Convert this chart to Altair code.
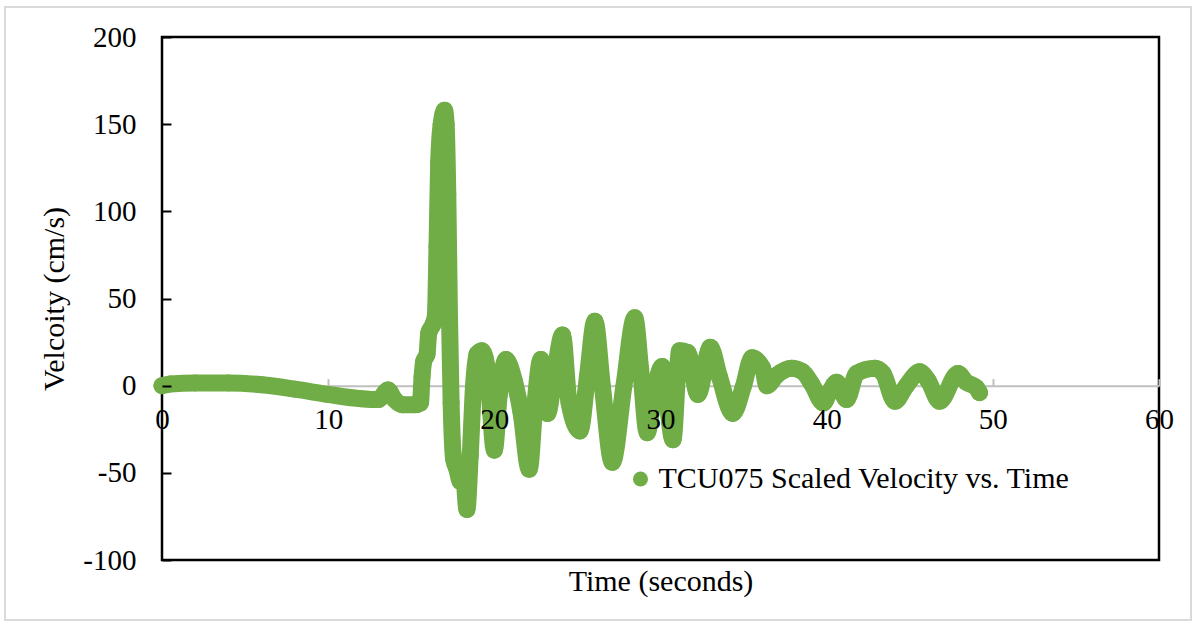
import altair as alt
import pandas as pd

# ---- data ----
time_s = [0, 0.5, 2, 4, 6, 8, 10, 12, 13, 13.6, 14.0, 14.5, 15.2, 15.55, 15.65, 15.75,
          15.95, 16.05, 16.3, 16.45, 16.55, 16.65, 16.8, 17.0, 17.1, 17.2, 17.3, 17.4,
          17.55, 17.75, 17.95, 18.15, 18.35, 18.55, 18.75, 18.95, 19.25, 19.6, 20.0,
          20.3, 20.7, 21.2, 21.6, 22.1, 22.45, 22.8, 23.2, 23.6, 24.1, 24.5, 25.15,
          25.6, 26.05, 26.5, 27.1, 27.8, 28.45, 28.8, 29.2, 29.6, 30.1, 30.75, 31.15,
          31.65, 32.25, 33.0, 33.55, 34.35, 35.0, 35.5, 36.15, 36.4, 37.0, 37.9, 38.55,
          39.1, 39.8, 40.2, 40.6, 41.2, 41.8, 42.9, 43.4, 44.1, 44.8, 45.6, 46.1, 46.8,
          47.9, 48.4, 49.0, 49.2]
velocity = [0, 1, 1.5, 1.5, 0.5, -2, -5, -7.5, -8, -2.5, -8, -11, -11, -10, 5, 14,
            18, 30, 35, 40, 80, 128, 150, 158, 150, 110, 40, -10, -42,
            -48, -55, -52, -71, -40, 0, 18, 20, 8, -37,
            -5, 15, 3, -15, -48, -10, 15, -16, 5, 29, -10, -26,
            5, 37, 0, -44, 0, 39, 10, -27, -5, 11, -31, 20,
            19, -5, 22, 5, -16, 0, 16, 10, 0, 6, 10, 8,
            1, -10, -3, 2, -8, 7, 10, 7, -9, 0, 8, 3, -9,
            7, 2, -1, -4]
series_name = "TCU075 Scaled Velocity vs. Time"

x_ticks = [0, 10, 20, 30, 40, 50, 60]
y_ticks = [-100, -50, 0, 50, 100, 150, 200]

df = pd.DataFrame({"t": time_s, "v": velocity, "series": series_name})

GREEN = "#70AD47"
FONT = "Liberation Serif"
W, H = 997, 523
ZERO_FROM_TOP = H * 200 / 300
ZERO_FROM_BOTTOM = H * 100 / 300
PLAIN = "'' + datum.value"

xscale = alt.Scale(domain=[0, 60], nice=False, zero=False)
yscale = alt.Scale(domain=[-100, 200], nice=False, zero=False)

frame = alt.Chart(alt.Data(values=[{}])).mark_rect(
    fillOpacity=0, stroke="#D9D9D9", strokeWidth=2
).encode(x=alt.value(-157), x2=alt.value(1029), y=alt.value(-30), y2=alt.value(583))

line = alt.Chart(df).mark_line(
    color=GREEN, strokeWidth=17, strokeCap="round", strokeJoin="round",
    interpolate="monotone", clip=False
).encode(
    x=alt.X("t:Q", scale=xscale, axis=alt.Axis(
        orient="bottom", title="Time (seconds)", labels=False, ticks=False, tickSize=0,
        domain=False, grid=False, titlePadding=6, titleFont=FONT, titleFontSize=30,
        titleFontWeight="normal", titleColor="black")),
    y=alt.Y("v:Q", scale=yscale, axis=alt.Axis(
        orient="left", title="Velcoity (cm/s)", values=y_ticks, ticks=False, tickSize=0,
        domain=False, grid=False, labelPadding=26, labelFont=FONT, labelFontSize=29,
        labelColor="black", labelExpr=PLAIN, titleFont=FONT, titleFontSize=30,
        titleFontWeight="normal", titleColor="black", titlePadding=13,
        labelFlush=False, zindex=1)),
    order="t:Q",
)

points = alt.Chart(df).mark_circle(size=289, opacity=1, clip=False).encode(
    x=alt.X("t:Q", scale=xscale, axis=alt.Axis(
        orient="top", offset=-ZERO_FROM_TOP, labels=False, domain=True,
        domainColor="#BFBFBF", domainWidth=2, ticks=True, tickColor="#BFBFBF",
        tickSize=7, tickWidth=2, values=x_ticks, title=None, grid=False, zindex=0)),
    y=alt.Y("v:Q", scale=yscale, axis=alt.Axis(
        orient="right", offset=-W, labels=False, domain=False, ticks=True,
        tickColor="black", tickSize=9, tickWidth=2, values=y_ticks, title=None,
        grid=False, zindex=1)),
    color=alt.Color("series:N", scale=alt.Scale(range=[GREEN]), legend=alt.Legend(
        title=None, orient="none", legendX=463.5, legendY=427, symbolType="circle",
        symbolSize=225, symbolStrokeWidth=0, labelFont=FONT, labelFontSize=30,
        labelColor="black", labelOffset=3, padding=0, labelLimit=1000)),
)

labels = alt.Chart(df).mark_point(opacity=0).encode(
    x=alt.X("t:Q", scale=xscale, axis=alt.Axis(
        orient="bottom", offset=-ZERO_FROM_BOTTOM, domain=False, ticks=False, tickSize=0,
        labelPadding=20, values=x_ticks, labelFont=FONT, labelFontSize=29,
        labelColor="black", labelFlush=False, labelOverlap=False, title=None,
        grid=False, zindex=2)),
    y=alt.Y("v:Q", scale=yscale, axis=None),
)

chart = alt.layer(frame, line, points, labels).resolve_axis(
    x="independent", y="independent"
).properties(
    width=W, height=H,
    padding={"left": 162, "top": 37, "right": 37, "bottom": 68},
    autosize=alt.AutoSizeParams(type="none"),
    background="white",
).configure_view(stroke="black", strokeWidth=2.5)

chart.save("out.html", embed_options={"renderer": "svg", "actions": False})
